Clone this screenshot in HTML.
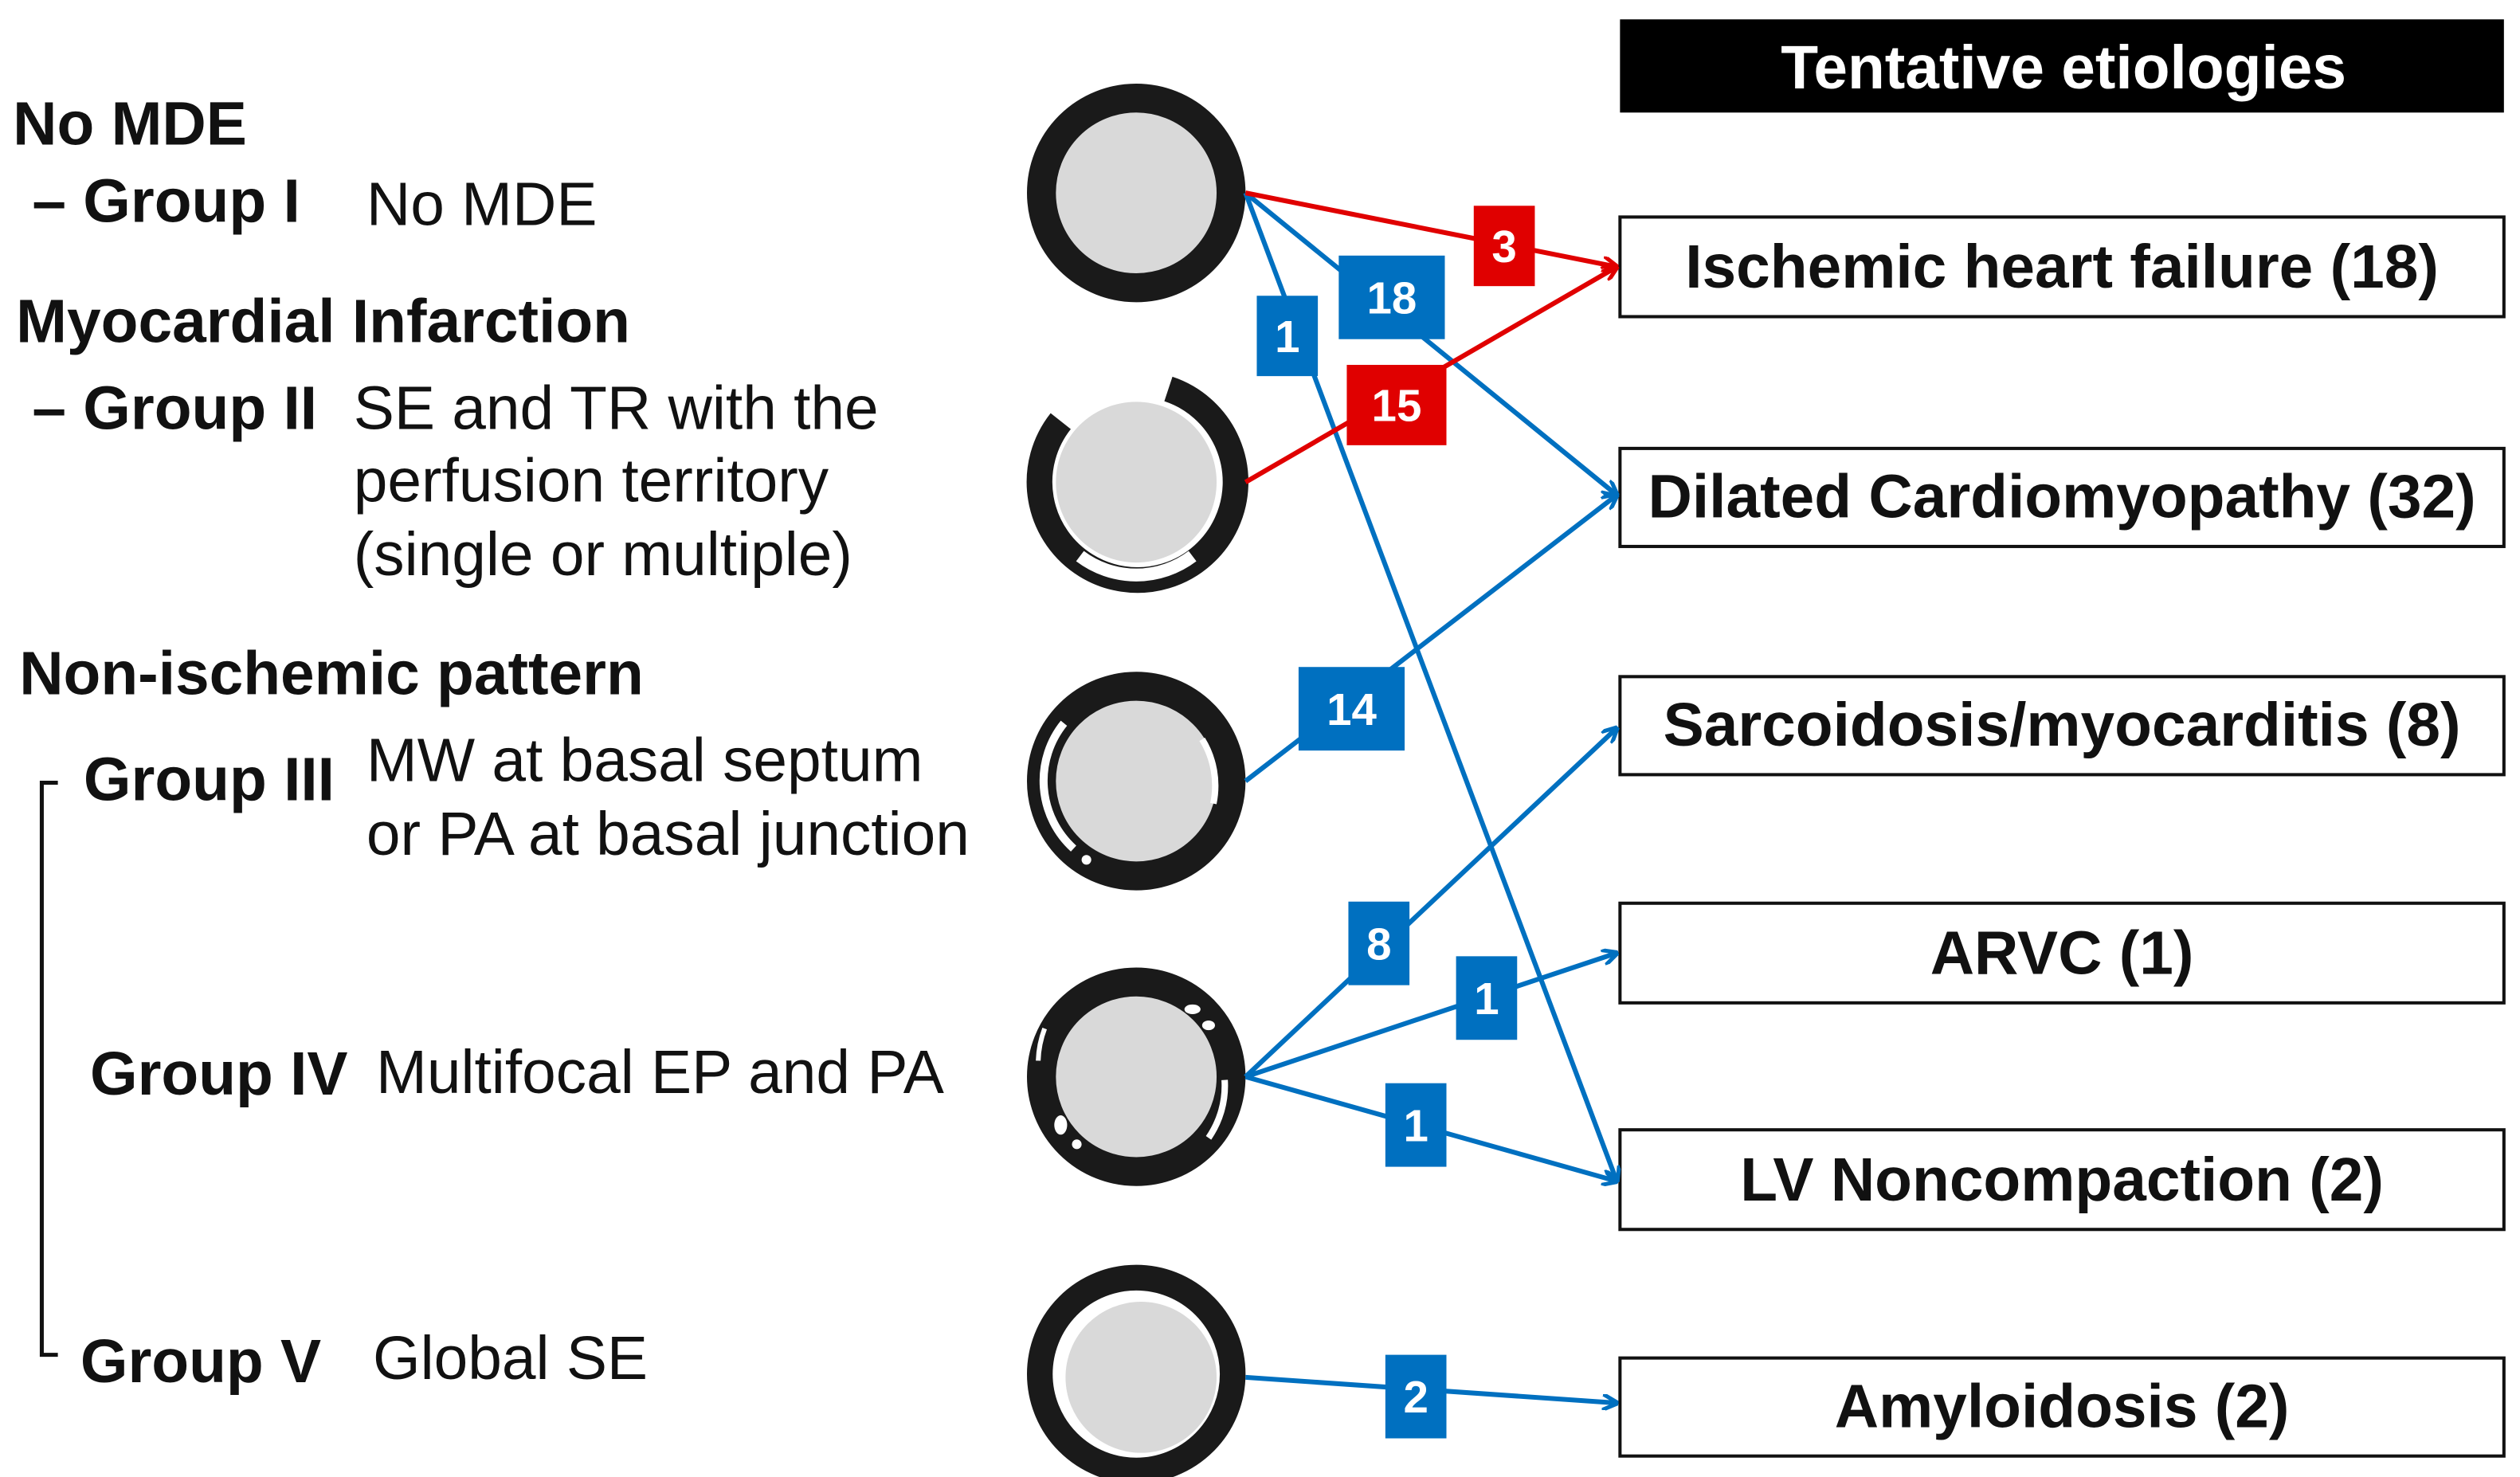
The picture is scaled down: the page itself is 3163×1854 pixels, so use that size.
<!DOCTYPE html>
<html><head><meta charset="utf-8"><style>
html,body{margin:0;padding:0;background:#fff;}
svg{display:block;}
text{font-family:"Liberation Sans",Arial,sans-serif;}
</style></head><body>
<svg width="3163" height="1854" viewBox="0 0 1568 919" xmlns="http://www.w3.org/2000/svg">
<defs>
<marker id="ab" markerWidth="10" markerHeight="10" refX="9" refY="5" orient="auto" markerUnits="userSpaceOnUse" viewBox="0 0 10 10"><path d="M0,0 L10,5 L0,10" fill="none" stroke="#0070c0" stroke-width="2.5"/></marker>
<marker id="ar" markerWidth="10" markerHeight="10" refX="9" refY="5" orient="auto" markerUnits="userSpaceOnUse" viewBox="0 0 10 10"><path d="M0,0 L10,5 L0,10" fill="none" stroke="#e00000" stroke-width="2.5"/></marker>
</defs>
<rect width="1568" height="919" fill="#fff"/>
<g font-size="38" fill="#111">
<text x="8" y="90" font-weight="bold">No MDE</text>
<text x="20" y="138" font-weight="bold">– Group I</text>
<text x="228" y="140">No MDE</text>
<text x="10" y="213" font-weight="bold">Myocardial Infarction</text>
<text x="20" y="267" font-weight="bold">– Group II</text>
<text x="220" y="267">SE and TR with the</text>
<text x="220" y="312">perfusion territory</text>
<text x="220" y="358">(single or multiple)</text>
<text x="12" y="432" font-weight="bold">Non-ischemic pattern</text>
<text x="52" y="498" font-weight="bold">Group III</text>
<text x="228" y="486">MW at basal septum</text>
<text x="228" y="532">or PA at basal junction</text>
<text x="56" y="681" font-weight="bold">Group IV</text>
<text x="234" y="680">Multifocal EP and PA</text>
<text x="50" y="860" font-weight="bold">Group V</text>
<text x="232" y="858">Global SE</text>
</g>
<path d="M36,487 H26 V843 H36" fill="none" stroke="#111" stroke-width="2.5"/>
<circle cx="707" cy="120" r="59" fill="#d9d9d9" stroke="#1a1a1a" stroke-width="18"/>
<g>
<circle cx="707" cy="300" r="50" fill="#d9d9d9"/>
<path d="M660,262 A61,61 0 1 0 727,242" fill="none" stroke="#1a1a1a" stroke-width="16"/>
<path d="M672,346 A58,58 0 0 0 742,346" fill="none" stroke="#fff" stroke-width="8"/>
</g>
<g>
<circle cx="707" cy="486" r="59" fill="#d9d9d9" stroke="#1a1a1a" stroke-width="18"/>
<path d="M662,450 A57,57 0 0 0 668,528" fill="none" stroke="#fff" stroke-width="5"/>
<path d="M748,460 A55,55 0 0 1 755,500" fill="none" stroke="#fff" stroke-width="4"/>
<circle cx="676" cy="535" r="3" fill="#fff"/>
</g>
<g>
<circle cx="707" cy="670" r="59" fill="#d9d9d9" stroke="#1a1a1a" stroke-width="18"/>
<ellipse cx="742" cy="628" rx="5" ry="3" fill="#fff"/>
<ellipse cx="752" cy="638" rx="4" ry="3" fill="#fff"/>
<path d="M762,672 A57,57 0 0 1 752,708" fill="none" stroke="#fff" stroke-width="4"/>
<ellipse cx="660" cy="700" rx="4" ry="6" fill="#fff"/>
<ellipse cx="670" cy="712" rx="3" ry="3" fill="#fff"/>
<path d="M650,640 A62,62 0 0 0 646,660" fill="none" stroke="#fff" stroke-width="3"/>
</g>
<g>
<circle cx="707" cy="855" r="60" fill="#fff" stroke="#1a1a1a" stroke-width="16"/>
<circle cx="710" cy="857" r="47" fill="#d9d9d9"/>
</g>
<rect x="1008" y="12" width="550" height="58" fill="#000"/>
<text x="1284" y="55" font-size="38" font-weight="bold" fill="#fff" text-anchor="middle">Tentative etiologies</text>
<g fill="#fff" stroke="#111" stroke-width="2">
<rect x="1008" y="135" width="550" height="62"/>
<rect x="1008" y="279" width="550" height="61"/>
<rect x="1008" y="421" width="550" height="61"/>
<rect x="1008" y="562" width="550" height="62"/>
<rect x="1008" y="703" width="550" height="62"/>
<rect x="1008" y="845" width="550" height="61"/>
</g>
<g font-size="38" font-weight="bold" fill="#111" text-anchor="middle">
<text x="1283" y="179">Ischemic heart failure (18)</text>
<text x="1283" y="322">Dilated Cardiomyopathy (32)</text>
<text x="1283" y="464">Sarcoidosis/myocarditis (8)</text>
<text x="1283" y="606">ARVC (1)</text>
<text x="1283" y="747">LV Noncompaction (2)</text>
<text x="1283" y="888">Amyloidosis (2)</text>
</g>
<g stroke-width="3" fill="none">
<line x1="775" y1="120" x2="1006" y2="308" stroke="#0070c0" marker-end="url(#ab)"/>
<line x1="775" y1="120" x2="1006" y2="735" stroke="#0070c0" marker-end="url(#ab)"/>
<line x1="775" y1="486" x2="1006" y2="308" stroke="#0070c0" marker-end="url(#ab)"/>
<line x1="775" y1="670" x2="1006" y2="453" stroke="#0070c0" marker-end="url(#ab)"/>
<line x1="775" y1="670" x2="1006" y2="593" stroke="#0070c0" marker-end="url(#ab)"/>
<line x1="775" y1="670" x2="1006" y2="735" stroke="#0070c0" marker-end="url(#ab)"/>
<line x1="775" y1="857" x2="1006" y2="873" stroke="#0070c0" marker-end="url(#ab)"/>
<line x1="775" y1="120" x2="1006" y2="166" stroke="#e00000" marker-end="url(#ar)"/>
<line x1="775" y1="300" x2="1006" y2="166" stroke="#e00000" marker-end="url(#ar)"/>
</g>
<g font-size="28" font-weight="bold" fill="#fff" text-anchor="middle">
<rect x="917" y="128" width="38" height="50" fill="#e00000"/><text x="936" y="163">3</text>
<rect x="838" y="227" width="62" height="50" fill="#e00000"/><text x="869" y="262">15</text>
<rect x="833" y="159" width="66" height="52" fill="#0070c0"/><text x="866" y="195">18</text>
<rect x="782" y="184" width="38" height="50" fill="#0070c0"/><text x="801" y="219">1</text>
<rect x="808" y="415" width="66" height="52" fill="#0070c0"/><text x="841" y="451">14</text>
<rect x="839" y="561" width="38" height="52" fill="#0070c0"/><text x="858" y="597">8</text>
<rect x="906" y="595" width="38" height="52" fill="#0070c0"/><text x="925" y="631">1</text>
<rect x="862" y="674" width="38" height="52" fill="#0070c0"/><text x="881" y="710">1</text>
<rect x="862" y="843" width="38" height="52" fill="#0070c0"/><text x="881" y="879">2</text>
</g>
</svg>
</body></html>
